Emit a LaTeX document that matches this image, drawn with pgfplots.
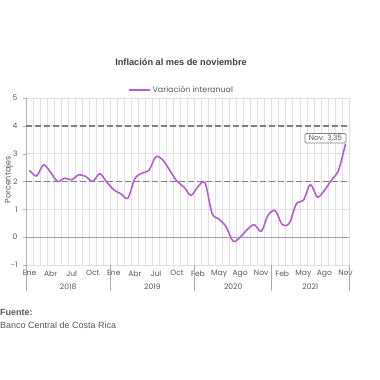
\documentclass[border=0pt]{standalone}
\usepackage{pgfplots}
\pgfplotsset{compat=1.18}
\usepackage{fontspec}
\setmainfont{Liberation Sans}
\newfontfamily\geo{Poppins}
\definecolor{lin}{RGB}{176,96,208}
\definecolor{txt}{RGB}{89,89,89}
\definecolor{ttl}{RGB}{64,64,64}
\definecolor{dash}{RGB}{128,128,128}
\definecolor{grd}{RGB}{225,225,225}
\begin{document}
\begin{tikzpicture}[x=1bp,y=1bp]
\useasboundingbox (0,0) rectangle (380,380);
\node[font=\fontsize{9.2bp}{11bp}\selectfont\bfseries, text=ttl] at (181,318) {Inflación al mes de noviembre};
\node[font=\fontsize{9bp}{11bp}\selectfont\bfseries, text=txt, anchor=west, inner sep=0pt] at (0,68) {Fuente:};
\node[font=\fontsize{9bp}{11bp}\selectfont, text=txt, anchor=west, inner sep=0pt] at (0,55) {Banco Central de Costa Rica};
\node[font=\geo\fontsize{8bp}{10bp}\selectfont, text=txt, rotate=90] at (8.5,200) {Porcentajes};
\begin{axis}[
  at={(26bp,115bp)}, anchor=south west,
  scale only axis, width=323bp, height=167bp,
  xmin=-0.5, xmax=45.5, ymin=-1, ymax=5,
  clip=false,
  axis lines=left,
  axis line style={-, draw=grd},
  y axis line style={draw=gray!60},
  xtick={0,3,...,45},
  xticklabels={Ene,Abr,Jul,Oct,Ene,Abr,Jul,Oct,Feb,May,Ago,Nov,Feb,May,Ago,Nov},
  minor xtick={-0.5,0.5,...,45.5},
  xminorgrids,
  minor grid style={draw=grd, line width=0.7pt},
  xtick style={draw=none},
  minor x tick style={draw=none},
  ytick={-1,0,...,5},
  ymajorgrids,
  major grid style={draw=grd, line width=0.7pt},
  y tick style={draw=gray!60},
  tick align=outside,
  major tick length=3bp,
  /pgf/number format/assume math mode=true,
  ticklabel style={font=\geo\fontsize{7.6bp}{9bp}\selectfont, text=txt},
  xticklabel style={yshift=1bp},
  yticklabel style={xshift=-2bp},
  legend style={at={(0.5,1)}, anchor=south, xshift=-6bp, yshift=1bp, draw=none, fill=none,
    font=\geo\fontsize{7.9bp}{9bp}\selectfont, text=txt, inner sep=1bp},
  legend image code/.code={\draw[#1] (0bp,0bp) -- (21bp,0bp);},
]
\addplot[draw=dash, line width=1.6pt, dash pattern=on 6bp off 3bp, forget plot] coordinates {(-0.5,2) (45.5,2)};
\addplot[draw=dash, line width=1.6pt, dash pattern=on 6bp off 3bp, forget plot] coordinates {(-0.5,4) (45.5,4)};
\addplot[draw=gray!75, line width=0.9pt, forget plot] coordinates {(-0.5,0) (45.5,0)};
\addplot[draw=lin, line width=1.6pt, smooth, tension=0.5, mark=none] coordinates {
(0,2.40) (1,2.20) (2,2.60) (3,2.33) (4,2.00) (5,2.12) (6,2.06) (7,2.24) (8,2.18) (9,2.00)
(10,2.28) (11,1.98) (12,1.70) (13,1.56) (14,1.40) (15,2.10) (16,2.30) (17,2.40) (18,2.89) (19,2.77)
(20,2.39) (21,2.01) (22,1.80) (23,1.50) (24,1.82) (25,1.95) (26,0.85) (27,0.65) (28,0.37) (29,-0.15)
(30,0.00) (31,0.27) (32,0.45) (33,0.21) (34,0.80) (35,0.95) (36,0.45) (37,0.50) (38,1.20) (39,1.32)
(40,1.89) (41,1.44) (42,1.68) (43,2.05) (44,2.40) (45,3.35)};
\addlegendentry{Variación interanual}
\node[draw=gray, rounded corners=1.5bp, line width=0.8pt, fill=white, anchor=south east,
  font=\geo\fontsize{7.4bp}{9bp}\selectfont, text=txt, inner xsep=4bp, inner ysep=1.5bp,
  xshift=1bp, yshift=0.5bp] at (axis cs:45,3.35) {Nov. 3,35};
\pgfplotsinvokeforeach{-0.5,11.5,23.5,34.5,45.5}{
  \draw[gray!65, line width=0.8pt] (axis cs:#1,-1) -- ([yshift=-26bp]axis cs:#1,-1);
}
\node[font=\geo\fontsize{7.6bp}{9bp}\selectfont, text=txt] at (axis cs:5.5,-1) [yshift=-22bp] {2018};
\node[font=\geo\fontsize{7.6bp}{9bp}\selectfont, text=txt] at (axis cs:17.5,-1) [yshift=-22bp] {2019};
\node[font=\geo\fontsize{7.6bp}{9bp}\selectfont, text=txt] at (axis cs:29,-1) [yshift=-22bp] {2020};
\node[font=\geo\fontsize{7.6bp}{9bp}\selectfont, text=txt] at (axis cs:40,-1) [yshift=-22bp] {2021};
\end{axis}
\end{tikzpicture}
\end{document}
